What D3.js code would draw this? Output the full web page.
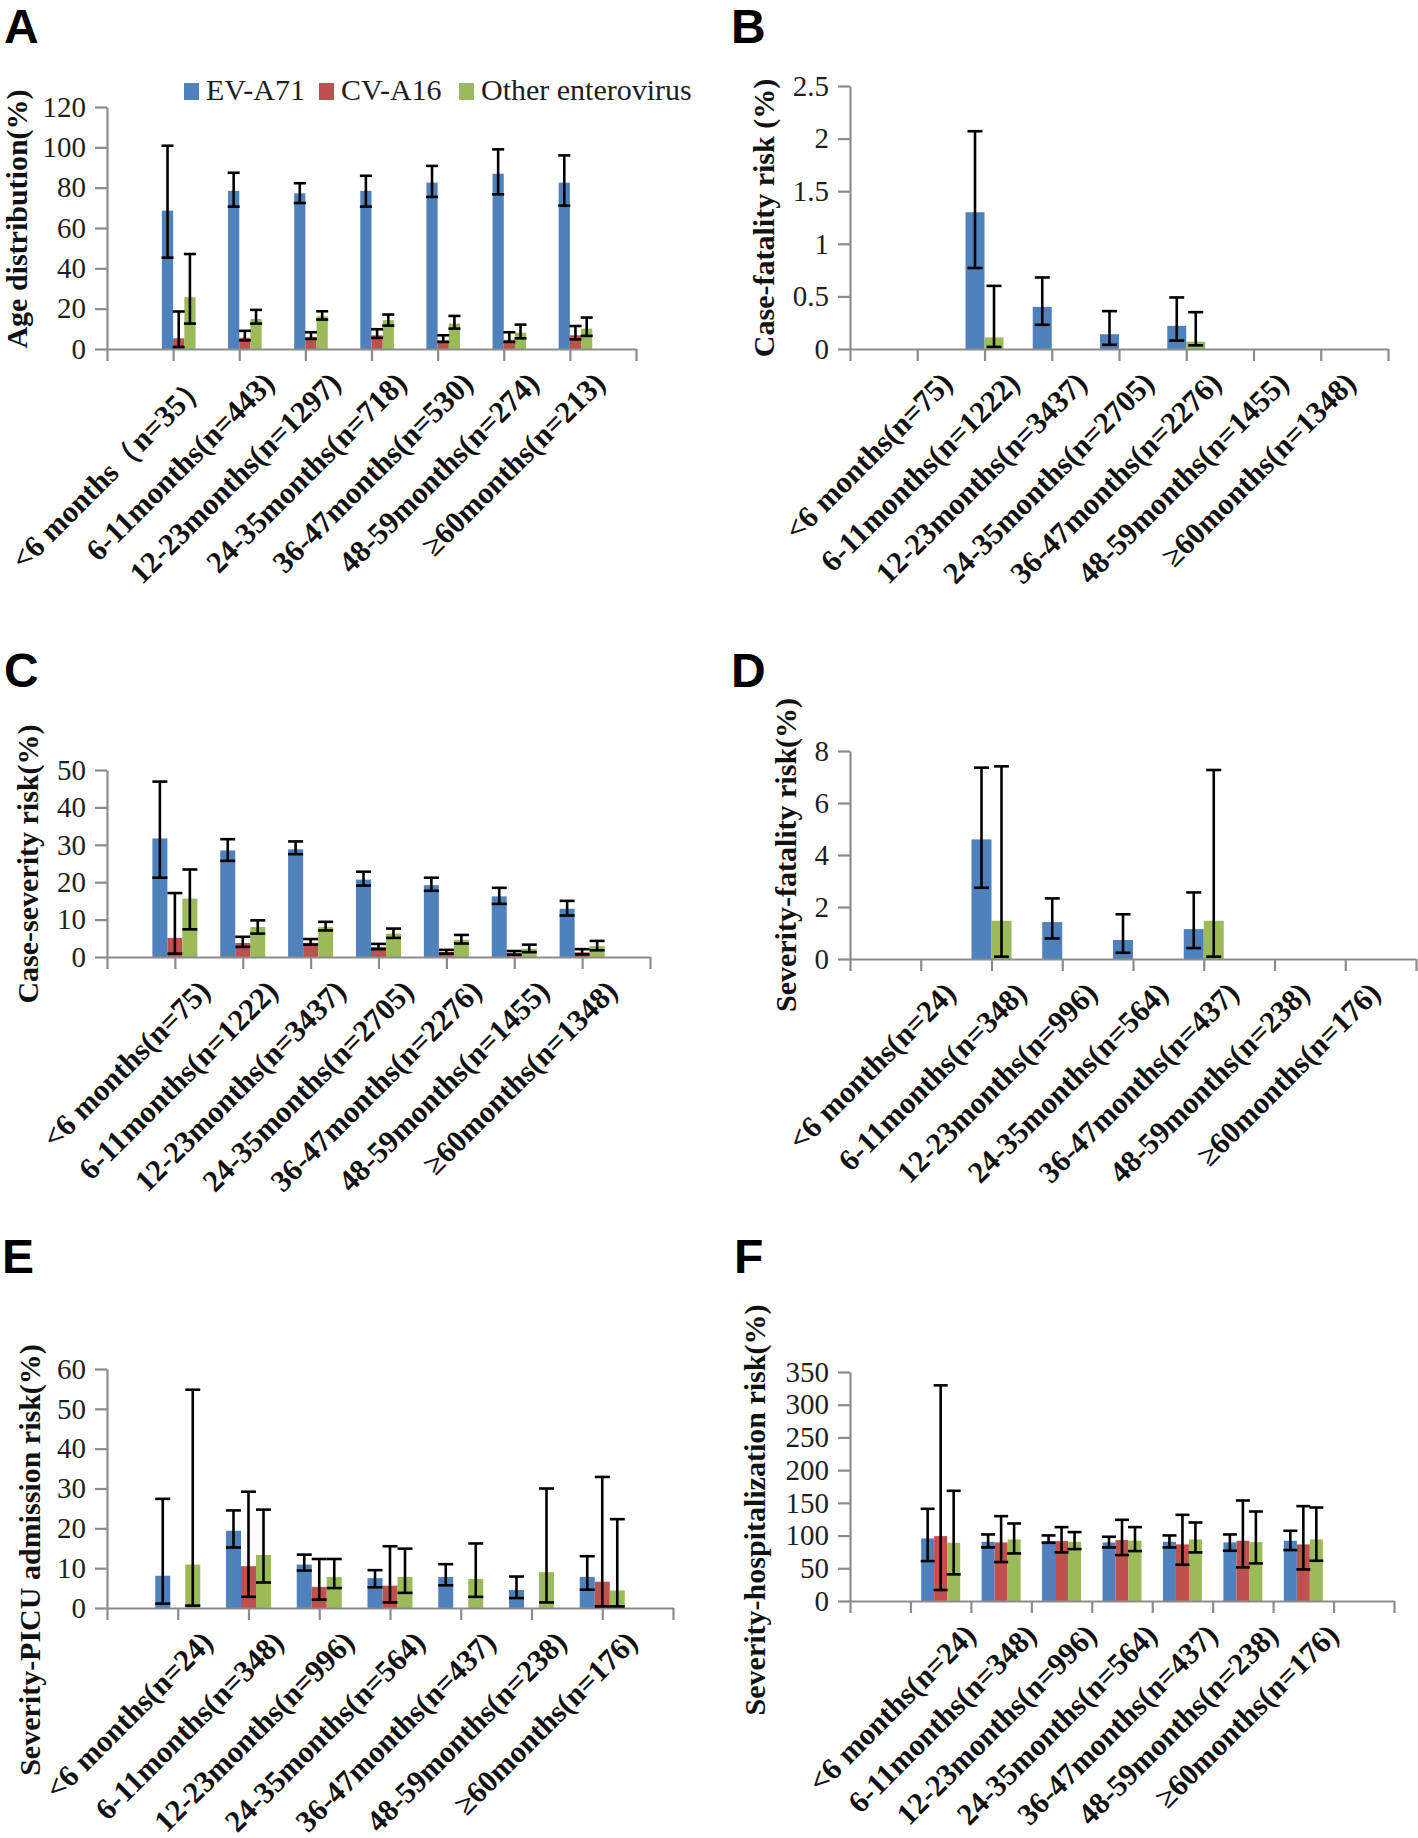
<!DOCTYPE html>
<html><head><meta charset="utf-8">
<script src="https://cdn.jsdelivr.net/npm/d3@7"></script>
<style>
html,body{margin:0;padding:0;background:#fff;}
svg{display:block;}
</style></head><body>
<svg id="chart" width="1418" height="1838"></svg>
<script>
// ---------------- DATA ----------------
const seriesNames = ["EV-A71", "CV-A16", "Other enterovirus"];
const seriesColors = ["#4f81bd", "#c0504d", "#9bbb59"];

const catsA = ["<6 months（n=35）", "6-11months(n=443)", "12-23months(n=1297)", "24-35months(n=718)", "36-47months(n=530)", "48-59months(n=274)", "≥60months(n=213)"];
const catsBC = ["<6 months(n=75)", "6-11months(n=1222)", "12-23months(n=3437)", "24-35months(n=2705)", "36-47months(n=2276)", "48-59months(n=1455)", "≥60months(n=1348)"];
const catsDEF = ["<6 months(n=24)", "6-11months(n=348)", "12-23months(n=996)", "24-35months(n=564)", "36-47months(n=437)", "48-59months(n=238)", "≥60months(n=176)"];

// each entry: [value, lower CI, upper CI]; null = no bar
const ageEV = [[68.6,45.3,100.8],[78.4,70.6,87.4],[77.2,72.4,82.2],[78.4,70.6,85.9],[82.5,75.4,90.8],[86.9,76.7,99.0],[82.5,71.1,96.0]];
const ageCV = [[5.3,1.0,18.6],[5.6,4.3,9.0],[6.0,5.0,8.3],[6.8,5.5,9.8],[4.3,3.5,6.8],[4.6,3.5,8.3],[6.8,4.8,11.4]];
const ageOther = [[25.7,12.6,47.1],[14.9,12.6,19.4],[16.2,14.6,18.7],[14.3,11.6,17.1],[12.6,10.1,16.4],[8.1,5.3,12.1],[10.1,6.5,15.6]];

const cfrEV = [null,[1.30,0.77,2.07],[0.40,0.23,0.68],[0.14,0.04,0.36],[0.22,0.08,0.49],null,null];
const cfrOther = [null,[0.11,0.02,0.60],null,null,[0.07,0.035,0.35],null,null];

const sevEV = [[31.7,21.2,46.9],[28.5,25.7,31.5],[28.8,27.5,30.9],[20.7,19.1,22.8],[19.2,17.7,21.2],[16.2,14.2,18.5],[12.9,11.1,15.0]];
const sevCV = [[5.1,0.9,17.1],[3.75,2.7,5.4],[3.8,3.3,4.8],[2.7,2.1,3.5],[1.3,0.9,1.9],[1.1,0.6,1.6],[1.25,0.7,2.1]];
const sevOther = [[15.6,7.4,23.4],[8.0,6.25,9.8],[8.0,7.1,9.4],[6.25,5.1,7.6],[4.6,3.6,5.9],[2.2,1.3,3.3],[2.9,1.8,4.3]];

const sfrEV = [null,[4.6,2.74,7.36],[1.42,0.79,2.33],[0.73,0.24,1.72],[1.15,0.42,2.56],null,null];
const sfrOther = [null,[1.47,0.09,7.41],null,null,[1.47,0.09,7.27],null,null];

const picuEV = [[8.1,1.1,27.4],[19.4,15.2,24.5],[10.9,9.4,13.4],[7.5,5.2,9.5],[7.8,5.7,11.0],[4.5,2.5,7.9],[7.8,4.6,13.0]];
const picuCV = [null,[10.5,2.8,29.2],[5.3,2.1,12.3],[5.6,1.4,15.5],null,null,[6.6,0.4,32.9]];
const picuOther = [[10.9,0.6,54.8],[13.3,6.4,24.7],[7.8,5.0,12.3],[7.8,3.8,14.9],[7.3,2.8,16.2],[9.0,1.4,30.0],[4.4,0.4,22.3]];

const hospEV = [[95.6,61.0,140.9],[90.5,81.9,101.7],[91.6,89.0,100.2],[89.5,81.9,98.2],[90.5,81.9,100.2],[89.5,76.8,101.7],[92.1,77.8,107.3]];
const hospCV = [[99.2,16.8,329.6],[89.5,59.5,129.7],[91.6,74.3,112.9],[93.1,70.2,124.1],[86.5,55.4,131.7],[92.1,51.4,153.6],[86.5,48.3,145.0]];
const hospOther = [[89.0,40.7,168.4],[94.1,72.7,118.5],[90.5,79.3,105.3],[92.1,76.3,112.9],[94.1,74.3,120.0],[90.0,57.5,136.8],[94.1,61.5,142.9]];

const ticksA = [0,20,40,60,80,100,120];
const ticksB = [0,0.5,1,1.5,2,2.5];
const ticksC = [0,10,20,30,40,50];
const ticksD = [0,2,4,6,8];
const ticksE = [0,10,20,30,40,50,60];
const ticksF = [0,50,100,150,200,250,300,350];

const titles = ["Age distribution(%)", "Case-fatality risk (%)", "Case-severity risk(%)", "Severity-fatality risk(%)", "Severity-PICU admission risk(%)", "Severity-hospitalization risk(%)"];

// ---------------- DRAWING ----------------
const svg = d3.select("#chart");
const SERIF = "'Liberation Serif','Times New Roman',Times,serif";
const SANS = "'Liberation Sans',Arial,Helvetica,sans-serif";
const AXIS = "#8c8c8c";

function drawPanel(p) {
  const g = svg.append("g");
  g.append("text").attr("x", p.letterX).attr("y", p.letterY).text(p.letter)
    .attr("font-family", SANS).attr("font-weight", "bold").attr("font-size", 48).attr("fill", "#000");

  const y = d3.scaleLinear().domain([0, p.ticks[p.ticks.length - 1]]).range([p.yBottom, p.yTop]);
  const tickIdx = d3.scaleLinear().domain([0, p.nInt]).range([p.x0, p.x1]);
  let center;
  if (p.mode === "onTick") {
    const pt = d3.scalePoint().domain(["", ...p.cats, " "]).range([p.x0, p.x1]);
    center = c => pt(c);
  } else {
    const band = d3.scaleBand().domain(["", ...p.cats, " "]).range([p.x0, p.x1]).paddingInner(0).paddingOuter(0);
    center = c => band(c) + band.bandwidth() / 2;
  }
  const inner = d3.scaleBand().domain(d3.range(p.nSlots)).range([-p.nSlots * p.bw / 2, p.nSlots * p.bw / 2]);

  // bars
  p.series.forEach(s => {
    s.data.forEach((d, i) => {
      if (!d) return;
      const cx = center(p.cats[i]) + inner(s.slot);
      g.append("rect").attr("x", cx).attr("width", inner.bandwidth())
        .attr("y", y(d[0])).attr("height", y(0) - y(d[0]))
        .attr("fill", seriesColors[s.color]);
    });
  });

  // axes
  const yAxis = d3.axisLeft(y).tickValues(p.ticks).tickSize(12).tickSizeOuter(0).tickPadding(9).tickFormat(d => String(d));
  const ya = g.append("g").attr("transform", `translate(${p.x0},0)`).call(yAxis);
  const xAxis = d3.axisBottom(tickIdx).tickValues(d3.range(p.nInt + 1)).tickSize(12).tickSizeOuter(0).tickFormat("");
  const xa = g.append("g").attr("transform", `translate(0,${p.yBottom})`).call(xAxis);
  [ya, xa].forEach(a => {
    a.select(".domain").attr("stroke", AXIS).attr("stroke-width", 2.2);
    a.selectAll(".tick line").attr("stroke", AXIS).attr("stroke-width", 2.2);
    a.selectAll(".tick text").attr("font-family", SERIF).attr("font-size", 29).attr("fill", "#1e1e1e");
  });

  // error bars
  p.series.forEach(s => {
    s.data.forEach((d, i) => {
      if (!d) return;
      const cx = center(p.cats[i]) + inner(s.slot) + inner.bandwidth() / 2;
      const eg = g.append("g").attr("stroke", "#000").attr("stroke-width", 2.6);
      eg.append("line").attr("x1", cx).attr("x2", cx).attr("y1", y(d[1])).attr("y2", y(d[2]));
      [d[1], d[2]].forEach(v => eg.append("line").attr("x1", cx - p.cap / 2).attr("x2", cx + p.cap / 2).attr("y1", y(v)).attr("y2", y(v)));
    });
  });

  // category labels
  p.cats.forEach(c => {
    g.append("text").text(c)
      .attr("transform", `translate(${center(c) + 37},${p.yBottom + 36}) rotate(-45)`)
      .attr("text-anchor", "end").attr("font-family", SERIF).attr("font-weight", "bold")
      .attr("font-size", 30.5).attr("fill", "#111");
  });

  // y title
  g.append("text").text(p.title)
    .attr("transform", `translate(${p.titleX},${p.titleY}) rotate(-90)`)
    .attr("text-anchor", "middle").attr("font-family", SERIF).attr("font-weight", "bold")
    .attr("font-size", 30).attr("fill", "#111");
}

const panels = [
  { letter: "A", letterX: 4, letterY: 43, cats: catsA, ticks: ticksA, title: titles[0], titleX: 27, titleY: 219,
    x0: 107, x1: 636, yTop: 107, yBottom: 349, nInt: 8, mode: "onTick", nSlots: 4, bw: 11.2, cap: 12,
    series: [{ data: ageEV, color: 0, slot: 1 }, { data: ageCV, color: 1, slot: 2 }, { data: ageOther, color: 2, slot: 3 }] },
  { letter: "B", letterX: 731, letterY: 43, cats: catsBC, ticks: ticksB, title: titles[1], titleX: 774, titleY: 218,
    x0: 850, x1: 1388, yTop: 86, yBottom: 349, nInt: 8, mode: "onTick", nSlots: 2, bw: 19, cap: 15,
    series: [{ data: cfrEV, color: 0, slot: 0 }, { data: cfrOther, color: 2, slot: 1 }] },
  { letter: "C", letterX: 4, letterY: 687, cats: catsBC, ticks: ticksC, title: titles[2], titleX: 38, titleY: 864,
    x0: 107, x1: 650, yTop: 770, yBottom: 957, nInt: 8, mode: "onTick", nSlots: 3, bw: 15, cap: 15,
    series: [{ data: sevEV, color: 0, slot: 0 }, { data: sevCV, color: 1, slot: 1 }, { data: sevOther, color: 2, slot: 2 }] },
  { letter: "D", letterX: 731, letterY: 687, cats: catsDEF, ticks: ticksD, title: titles[3], titleX: 796, titleY: 855,
    x0: 850, x1: 1416, yTop: 751, yBottom: 959, nInt: 8, mode: "onTick", nSlots: 2, bw: 20, cap: 15,
    series: [{ data: sfrEV, color: 0, slot: 0 }, { data: sfrOther, color: 2, slot: 1 }] },
  { letter: "E", letterX: 2, letterY: 1273, cats: catsDEF, ticks: ticksE, title: titles[4], titleX: 40, titleY: 1560,
    x0: 107, x1: 673, yTop: 1369, yBottom: 1608, nInt: 8, mode: "onTick", nSlots: 3, bw: 15, cap: 15,
    series: [{ data: picuEV, color: 0, slot: 0 }, { data: picuCV, color: 1, slot: 1 }, { data: picuOther, color: 2, slot: 2 }] },
  { letter: "F", letterX: 734, letterY: 1273, cats: catsDEF, ticks: ticksF, title: titles[5], titleX: 765, titleY: 1510,
    x0: 850, x1: 1394, yTop: 1372, yBottom: 1601, nInt: 9, mode: "band", nSlots: 3, bw: 13, cap: 14,
    series: [{ data: hospEV, color: 0, slot: 0 }, { data: hospCV, color: 1, slot: 1 }, { data: hospOther, color: 2, slot: 2 }] }
];
panels.forEach(drawPanel);

// legend (panel A)
const legX = [184, 319, 459];
const leg = svg.append("g");
seriesNames.forEach((n, i) => {
  leg.append("rect").attr("x", legX[i]).attr("y", 83).attr("width", 15).attr("height", 17).attr("fill", seriesColors[i]);
  leg.append("text").attr("x", legX[i] + 22).attr("y", 100).text(n)
    .attr("font-family", SERIF).attr("font-size", 30).attr("fill", "#1e1e1e");
});
</script>
</body></html>
